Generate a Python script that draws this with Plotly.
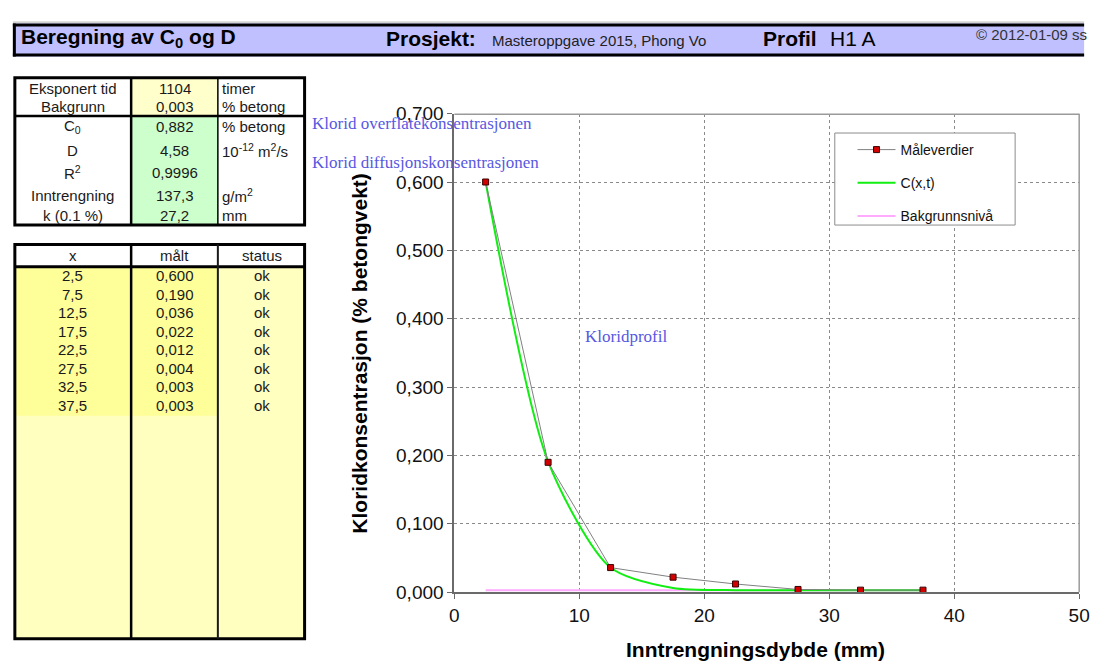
import plotly.graph_objects as go

# ---------------------------------------------------------------- data
depth_mm = [2.5, 7.5, 12.5, 17.5, 22.5, 27.5, 32.5, 37.5]
measured = [0.600, 0.190, 0.036, 0.022, 0.012, 0.004, 0.003, 0.003]
status = ["ok", "ok", "ok", "ok", "ok", "ok", "ok", "ok"]

# fitted profile C(x,t) read at the same depths (smoothed line)
fit_values = [0.600, 0.191, 0.036, 0.006, 0.003, 0.003, 0.003, 0.003]

background_level = 0.003
background_x = [2.5, 37.5]

param_labels = ["Eksponert tid", "Bakgrunn", "C<sub>0</sub>", "D", "R<sup>2</sup>",
                "Inntrengning", "k (0.1 %)"]
param_values = ["1104", "0,003", "0,882", "4,58", "0,9996", "137,3", "27,2"]
param_units = ["timer", "% betong", "% betong", "10<sup>-12</sup> m<sup>2</sup>/s", "",
               "g/m<sup>2</sup>", "mm"]

table_headers = ["x", "målt", "status"]

title_text = "Beregning av C<sub>0</sub> og D"
project_label = "Prosjekt:"
project_name = "Masteroppgave 2015, Phong Vo"
profile_label = "Profil"
profile_name = "H1 A"
stamp = "© 2012-01-09 ss"

x_title = "Inntrengningsdybde (mm)"
y_title = "Kloridkonsentrasjon (% betongvekt)"

# ---------------------------------------------------------------- page geometry
W, H = 1103, 671
SANS = "Liberation Sans, Arial, sans-serif"
SERIF = "Liberation Serif, Times New Roman, serif"
BLUE = "#5858e2"


def px(x):
    return x / W


def py(y):
    return 1 - y / H


shapes = []
annotations = []


def rect(x0, y0, x1, y1, fill=None, line=None, width=0, layer="above"):
    shapes.append(dict(type="rect", xref="paper", yref="paper",
                       x0=px(x0), x1=px(x1), y0=py(y1), y1=py(y0),
                       fillcolor=fill if fill else "rgba(0,0,0,0)",
                       line=dict(color=line if line else "rgba(0,0,0,0)", width=width),
                       layer=layer))


def seg(x0, y0, x1, y1, color, width):
    shapes.append(dict(type="line", xref="paper", yref="paper",
                       x0=px(x0), x1=px(x1), y0=py(y0), y1=py(y1),
                       line=dict(color=color, width=width), layer="above"))


def text(x, y, s, size=15, anchor="center", color="#1a1a1a", family=SANS, angle=0):
    annotations.append(dict(xref="paper", yref="paper", x=px(x), y=py(y), text=s,
                            showarrow=False, xanchor=anchor, yanchor="middle",
                            textangle=angle,
                            font=dict(family=family, size=size, color=color)))


def comma(v, nd):
    return f"{v:.{nd}f}".replace(".", ",")


# ---------------------------------------------------------------- header bar
rect(8, 14, 1095, 48, fill="#c0c0ff")
seg(8, 12.5, 1095, 12.5, "#b4b4b4", 1)
seg(8, 15.5, 1095, 15.5, "#000000", 3)
seg(8, 46.5, 1095, 46.5, "#000000", 3)
seg(9.5, 14, 9.5, 48, "#000000", 3)

text(14, 29, f"<b>{title_text}</b>", size=21, anchor="left", color="#000")
text(385, 29, f"<b>{project_label}</b>", size=21, anchor="left", color="#000")
text(492, 31, project_name, size=15, anchor="left", color="#222")
text(767, 29, f"<b>{profile_label}</b>", size=21, anchor="left", color="#000")
text(835, 29, profile_name, size=21, anchor="left", color="#000")
text(983, 25, stamp, size=15, anchor="left", color="#333")

# ---------------------------------------------------------------- parameter table
param_rows = [81, 100, 120, 145, 168, 192, 212]
rect(128, 70, 216, 109, fill="#ffffcc")
rect(128, 109, 216, 222, fill="#ccffcc")
rect(10, 70, 304, 222, line="#000000", width=3)
seg(10, 109.5, 304, 109.5, "#000000", 2.5)
seg(128, 70, 128, 222, "#000000", 2.5)
seg(216, 70, 216, 222, "#000000", 1.5)
for yy, lab, val, unit in zip(param_rows, param_labels, param_values, param_units):
    text(69, yy, lab)
    text(172, yy, val)
    if unit:
        text(218, yy, unit, anchor="left")

# ---------------------------------------------------------------- measurement table
row_top = 265
row_h = 19.1
rect(10, 242, 304, 265, fill="#ffffff")
rect(10, 265, 304, 649, fill="#ffffc0")
rect(10, 265, 216, row_top + row_h * len(depth_mm) + 1, fill="#ffff99")
rect(10, 242, 304, 649, line="#000000", width=3)
seg(10, 265, 304, 265, "#000000", 3)
seg(128, 242, 128, 649, "#000000", 2.5)
seg(216, 242, 216, 649, "#1a1a1a", 2)
for cx, head in zip([69, 172, 261], table_headers):
    text(cx, 253, head)
for i, (xv, mv, st) in enumerate(zip(depth_mm, measured, status)):
    yy = row_top + row_h * (i + 0.5)
    text(69, yy, comma(xv, 1))
    text(172, yy, comma(mv, 3))
    text(261, yy, st)

# ---------------------------------------------------------------- chart frame
seg(456, 107.5, 1090, 107.5, "#9a9a9a", 1.5)
seg(1090, 107, 1090, 601, "#9a9a9a", 1.5)

# legend box
rect(842, 127, 1025, 222, fill="#ffffff", line="#8c8c8c", width=1)

# axis titles and chart notes
text(360, 354, f"<b>{y_title}</b>", size=21, color="#000", angle=-90)
text(762, 660, f"<b>{x_title}</b>", size=21, color="#000")
text(309, 117, "Klorid overflatekonsentrasjonen", size=17, anchor="left",
     color=BLUE, family=SERIF)
text(309, 157, "Klorid diffusjonskonsentrasjonen", size=17, anchor="left",
     color=BLUE, family=SERIF)
text(587, 337, "Kloridprofil", size=17, anchor="left", color=BLUE, family=SERIF)

# ---------------------------------------------------------------- traces
fig = go.Figure()

fig.add_trace(go.Scatter(
    x=background_x, y=[background_level] * len(background_x),
    mode="lines", name="Bakgrunnsnivå",
    line=dict(color="#ffaaff", width=2),
    legendgroup="c", legendrank=3))

fig.add_trace(go.Scatter(
    x=depth_mm, y=fit_values, mode="lines", name="C(x,t)",
    line=dict(color="#11ee11", width=2, shape="spline", smoothing=0.75),
    legendgroup="b", legendrank=2))

fig.add_trace(go.Scatter(
    x=depth_mm, y=measured, mode="lines+markers", name="Måleverdier",
    line=dict(color="#808080", width=1),
    marker=dict(symbol="square", size=6, color="#d40000",
                line=dict(color="#3a0000", width=1)),
    legendgroup="a", legendrank=1))

axis_common = dict(
    showgrid=True, gridcolor="#8a8a8a", griddash="dot", gridwidth=1,
    showline=True, linecolor="#6a6a6a", linewidth=2,
    ticks="outside", ticklen=5, tickcolor="#6a6a6a", tickwidth=1,
    zeroline=False, tickfont=dict(family=SANS, size=19, color="#111"),
)

fig.update_layout(
    width=W, height=H,
    margin=dict(l=0, r=0, t=0, b=0),
    paper_bgcolor="#ffffff", plot_bgcolor="#ffffff",
    separators=", ",
    xaxis=dict(domain=[px(456), px(1090)], range=[0, 50], dtick=10, tick0=0,
               **axis_common),
    yaxis=dict(domain=[py(601), py(107)], range=[0, 0.7], dtick=0.1, tick0=0,
               tickformat=".3f", **axis_common),
    showlegend=True,
    legend=dict(x=px(860), y=py(128), xanchor="left", yanchor="top",
                bgcolor="rgba(0,0,0,0)", borderwidth=0,
                font=dict(family=SANS, size=14, color="#111"),
                itemwidth=38, tracegroupgap=12, traceorder="grouped"),
    shapes=shapes,
    annotations=annotations,
)

fig.write_html("out.html")
